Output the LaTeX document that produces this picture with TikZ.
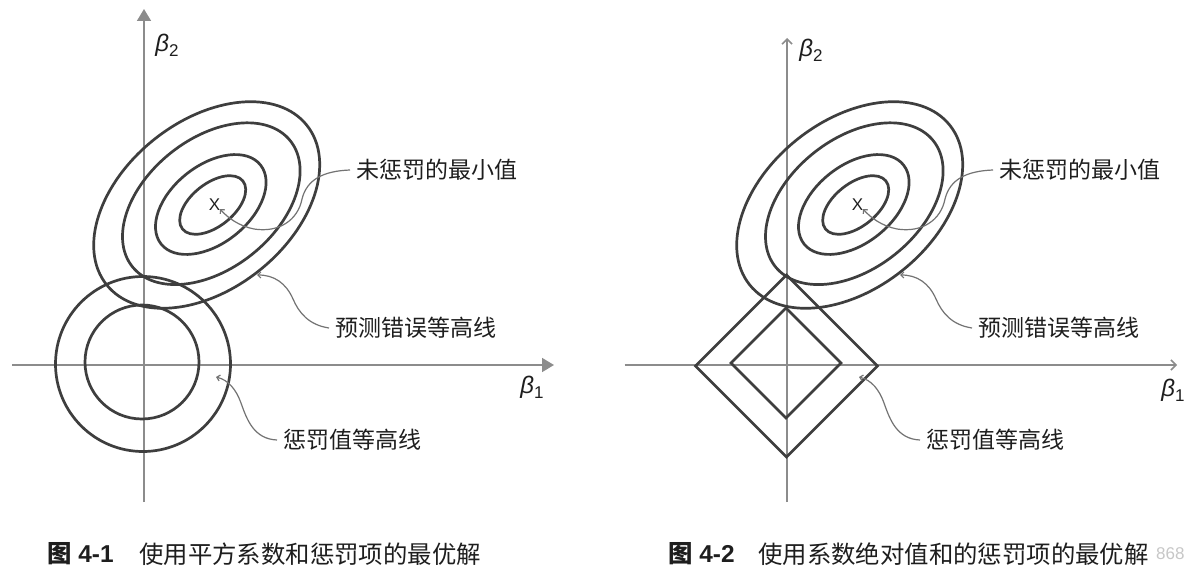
\documentclass[tikz,border=0pt]{standalone}
\usepackage{fontspec}
\setmainfont{Liberation Sans}
\newfontfamily\cjk{Noto Sans CJK SC}
\usetikzlibrary{arrows.meta}
\definecolor{curvec}{RGB}{62,62,62}
\definecolor{axisc}{RGB}{140,140,140}
\definecolor{leadc}{RGB}{115,115,115}
\definecolor{inkc}{RGB}{30,30,30}
\tikzset{
  contour/.style={draw=curvec, line width=2.7pt},
  axisline/.style={draw=axisc, line width=1.6pt},
  leader/.style={draw=leadc, line width=1.2pt, -{Straight Barb[length=3pt,width=6pt]}},
  lab/.style={font=\cjk\fontsize{23}{26}\selectfont, text=inkc, inner sep=0pt},
  betalab/.style={font=\fontsize{24}{28}\selectfont, text=inkc, inner sep=0pt},
  xmark/.style={font=\fontsize{17}{18}\selectfont, text=inkc, inner sep=0pt},
  caplab/.style={font=\fontsize{24.4}{28}\selectfont, text=inkc, inner sep=0pt},
  wmark/.style={font=\fontsize{17}{20}\selectfont, text=black!22, inner sep=0pt}
}
\newcommand{\ContourSet}[1]{%
  \foreach \cx/\cy/\ra/\rb in {62.7/160/128/84, 67.3/161.3/101/65, 66.8/160.5/63.5/39, 68.7/160/38.6/21.4}{%
    \draw[contour, shift={(\cx,\cy)}, rotate=38.5] (0,0) ellipse [x radius=\ra, y radius=\rb];
  }
  \node[xmark] (#1x) at (70.5,160) {X};
  \node[lab, anchor=west] (#1min) at (212,195) {未惩罚的最小值};
  \node[lab, anchor=west] (#1pred) at (191,37) {预测错误等高线};
  \node[lab, anchor=west] (#1pen) at (139,-75) {惩罚值等高线};
  \coordinate (#1minend) at (76,156);
  \coordinate (#1predend) at (113,90);
  \coordinate (#1penend) at (72,-12);
  \draw[leader] ([xshift=-6pt]#1min.west) .. controls (180,194) and (163,186) .. (158,166)
     .. controls (154,145) and (135,132) .. (110,136) .. controls (95,139) and (84,147) .. (#1minend);
  \draw[leader] ([xshift=-6pt]#1pred.west) .. controls (165,40) and (155,52) .. (149,66)
     .. controls (142,82) and (130,90) .. (#1predend);
  \draw[leader] ([xshift=-6pt]#1pen.west) .. controls (110,-74) and (103,-55) .. (97,-38)
     .. controls (92,-24) and (84,-15) .. (#1penend);
}
\begin{document}
\begin{tikzpicture}[x=1pt,y=1pt]
\path[fill=white] (0,0) rectangle (1188,574);
\useasboundingbox (0,0) rectangle (1188,574);
% ---------- left diagram ----------
\begin{scope}[shift={(144,209)}]
  \coordinate (Lyb) at (0,-137);
  \coordinate (Lyt) at (0,356);
  \coordinate (Lxl) at (-132,0);
  \coordinate (Lxr) at (410,0);
  \draw[axisline, -{Triangle[length=12pt,width=14pt]}] (Lyb) -- (Lyt);
  \draw[axisline, -{Triangle[length=12pt,width=14pt]}] (Lxl) -- (Lxr);
  \node[betalab] (Lb2) at (23,320) {\textit{β}\raisebox{-5pt}{\fontsize{17}{17}\selectfont 2}};
  \node[betalab] (Lb1) at (388,-22) {\textit{β}\raisebox{-5pt}{\fontsize{17}{17}\selectfont 1}};
  \draw[contour] (-1,1) circle [radius=87.5];
  \draw[contour] (-2,3) circle [radius=57];
  \ContourSet{L}
\end{scope}
% ---------- right diagram ----------
\begin{scope}[shift={(787,209)}]
  \coordinate (Ryb) at (0,-137);
  \coordinate (Ryt) at (0,327);
  \coordinate (Rxl) at (-162.5,0);
  \coordinate (Rxr) at (390,0);
  \draw[axisline, -{Straight Barb[length=5pt,width=10pt]}] (Ryb) -- (Ryt);
  \draw[axisline, -{Straight Barb[length=5pt,width=10pt]}] (Rxl) -- (Rxr);
  \node[betalab] (Rb2) at (24,315) {\textit{β}\raisebox{-5pt}{\fontsize{17}{17}\selectfont 2}};
  \node[betalab] (Rb1) at (386,-25) {\textit{β}\raisebox{-5pt}{\fontsize{17}{17}\selectfont 1}};
  \draw[contour, line join=miter] (-91.5,-1) -- (-0.5,90) -- (90.5,-1) -- (-0.5,-92) -- cycle;
  \draw[contour, line join=miter] (-56,2) -- (-1,57) -- (54,2) -- (-1,-53) -- cycle;
  \ContourSet{R}
\end{scope}
% ---------- captions ----------
\node[caplab, anchor=west] (cap1num) at (47,20) {{\cjk\bfseries 图} \textbf{4-1}};
\node[caplab, anchor=west] (cap1txt) at (139,20) {\cjk 使用平方系数和惩罚项的最优解};
\node[caplab, anchor=west] (cap2num) at (668,20) {{\cjk\bfseries 图} \textbf{4-2}};
\node[caplab, anchor=west] (cap2txt) at (758,20) {\cjk 使用系数绝对值和的惩罚项的最优解};
\node[wmark, anchor=west] (wm) at (1156,20) {868};
\end{tikzpicture}
\end{document}
